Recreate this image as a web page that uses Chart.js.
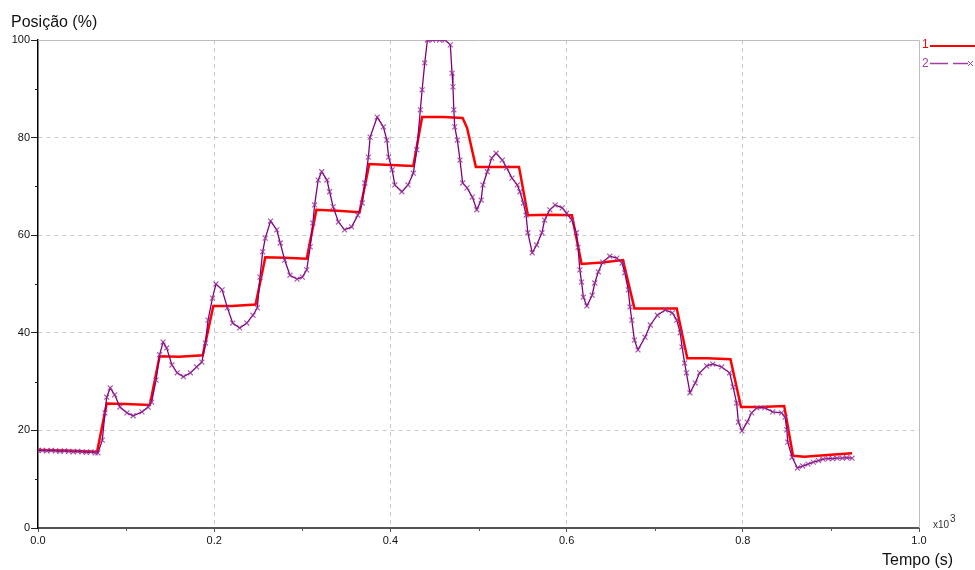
<!DOCTYPE html>
<html>
<head>
<meta charset="utf-8">
<script src="https://cdn.jsdelivr.net/npm/chart.js@4/dist/chart.umd.min.js"></script>
<style>
html, body { margin: 0; padding: 0; background: #fff; }
#wrap { position: relative; width: 975px; height: 570px; }
</style>
</head>
<body>
<div id="wrap"><canvas id="myChart" width="975" height="570"></canvas></div>
<script>
// series 1 - setpoint (red)
const tempo1 = [0.000, 0.030, 0.067, 0.078, 0.100, 0.127, 0.138, 0.160, 0.187, 0.199, 0.220, 0.247,
  0.258, 0.280, 0.305, 0.316, 0.340, 0.365, 0.376, 0.400, 0.426, 0.436, 0.460, 0.482, 0.487, 0.497,
  0.520, 0.546, 0.556, 0.580, 0.606, 0.617, 0.640, 0.664, 0.677, 0.700, 0.725, 0.737, 0.760, 0.786,
  0.798, 0.820, 0.847, 0.857, 0.870, 0.900, 0.924];
const posicao1 = [16.0, 15.9, 15.6, 25.5, 25.4, 25.2, 35.2, 35.1, 35.4, 45.5, 45.5, 45.8,
  55.5, 55.4, 55.2, 65.2, 65.0, 64.7, 74.6, 74.4, 74.2, 84.2, 84.2, 84.0, 82.0, 74.0,
  74.0, 74.0, 64.1, 64.2, 64.1, 54.1, 54.4, 54.9, 45.0, 45.0, 45.0, 34.8, 34.8, 34.6,
  24.8, 24.8, 25.0, 14.8, 14.6, 15.0, 15.3];

// series 2 - measured position (purple)
const tempo2 = [0.000, 0.005, 0.010, 0.015, 0.020, 0.025, 0.030, 0.035, 0.040, 0.045, 0.050, 0.055, 0.060, 0.065,
  0.068, 0.073, 0.076, 0.078, 0.082, 0.087, 0.093, 0.101, 0.108, 0.118, 0.125, 0.129, 0.134, 0.138,
  0.142, 0.146, 0.152, 0.158, 0.165, 0.173, 0.180, 0.186, 0.190, 0.193, 0.198, 0.202, 0.209, 0.215,
  0.221, 0.229, 0.237, 0.244, 0.249, 0.252, 0.255, 0.258, 0.264, 0.271, 0.275, 0.280, 0.286, 0.294,
  0.300, 0.305, 0.309, 0.312, 0.314, 0.318, 0.322, 0.328, 0.331, 0.335, 0.341, 0.348, 0.356, 0.363,
  0.368, 0.371, 0.375, 0.377, 0.385, 0.392, 0.396, 0.398, 0.402, 0.405, 0.413, 0.420, 0.426, 0.430,
  0.434, 0.436, 0.439, 0.442, 0.448, 0.456, 0.462, 0.468, 0.470, 0.471, 0.472, 0.473, 0.476, 0.479,
  0.482, 0.487, 0.493, 0.498, 0.503, 0.505, 0.510, 0.515, 0.520, 0.527, 0.532, 0.538, 0.544, 0.547,
  0.551, 0.554, 0.556, 0.561, 0.566, 0.572, 0.575, 0.581, 0.587, 0.595, 0.600, 0.606, 0.611, 0.613,
  0.615, 0.617, 0.619, 0.623, 0.629, 0.632, 0.636, 0.641, 0.649, 0.657, 0.663, 0.666, 0.670, 0.672,
  0.674, 0.677, 0.681, 0.689, 0.695, 0.703, 0.712, 0.720, 0.725, 0.729, 0.731, 0.734, 0.736, 0.740,
  0.746, 0.751, 0.759, 0.766, 0.776, 0.785, 0.789, 0.793, 0.795, 0.799, 0.805, 0.810, 0.816, 0.825,
  0.834, 0.844, 0.848, 0.850, 0.851, 0.856, 0.862, 0.868, 0.874, 0.880, 0.886, 0.891, 0.897, 0.902,
  0.907, 0.913, 0.918, 0.924];
const posicao2 = [15.9, 15.9, 15.8, 15.9, 15.8, 15.7, 15.8, 15.7, 15.6, 15.7, 15.6, 15.5, 15.6, 15.4,
  15.4, 18.0, 23.6, 26.8, 28.7, 27.3, 24.8, 23.6, 23.0, 23.8, 24.8, 25.8, 30.3, 35.5,
  38.1, 36.9, 33.4, 31.8, 31.0, 31.8, 33.0, 34.0, 37.9, 42.6, 47.1, 50.0, 48.8, 45.1,
  42.0, 41.0, 42.0, 43.6, 45.1, 51.4, 56.6, 59.4, 62.9, 61.1, 58.4, 54.9, 51.8, 51.0,
  51.4, 52.9, 57.6, 62.5, 66.2, 71.3, 73.0, 71.3, 68.9, 65.8, 62.7, 61.1, 61.7, 64.1,
  66.6, 70.7, 76.0, 80.1, 84.2, 82.2, 79.5, 76.0, 73.4, 70.3, 68.9, 70.3, 72.7, 77.5,
  85.7, 89.8, 95.3, 100.0, 100.0, 100.0, 100.0, 99.0, 93.2, 90.4, 85.7, 82.2, 79.5, 75.4,
  70.7, 69.7, 67.8, 65.2, 67.2, 70.3, 73.0, 75.8, 76.8, 75.4, 73.8, 71.7, 70.3, 68.9,
  66.6, 64.1, 60.5, 56.4, 58.0, 60.5, 63.1, 65.2, 66.2, 65.6, 64.5, 63.1, 60.5, 57.5,
  52.9, 50.4, 47.3, 45.5, 47.7, 50.2, 52.5, 54.5, 55.7, 55.3, 54.3, 52.3, 48.8, 45.3,
  42.6, 38.5, 36.5, 39.1, 41.6, 43.6, 44.7, 44.1, 42.6, 40.0, 37.1, 33.8, 31.8, 27.7,
  29.7, 31.8, 33.2, 33.6, 33.0, 31.8, 28.9, 25.6, 21.7, 19.9, 21.7, 23.6, 24.6, 24.6,
  23.8, 23.6, 22.7, 20.1, 17.6, 14.5, 12.3, 12.7, 13.1, 13.5, 13.8, 14.1, 14.2, 14.2,
  14.3, 14.3, 14.4, 14.3];

// axes
const xMajor = [0.0, 0.2, 0.4, 0.6, 0.8, 1.0];
const xTickLabels = ['0.0', '0.2', '0.4', '0.6', '0.8', '1.0'];
const yMajor = [0, 20, 40, 60, 80, 100];
const yTickLabels = ['0', '20', '40', '60', '80', '100'];

const majorIndex = (list, v) => list.findIndex(m => Math.abs(m - v) < 1e-6);

const gridColor = '#c8c8c8';
const tickFont = { family: 'Liberation Sans, Arial, sans-serif', size: 11 };

const extras = {
  id: 'extras',
  beforeDatasetsDraw(chart) {
    const { ctx, chartArea: a, scales } = chart;
    ctx.save();
    // top and right frame
    ctx.strokeStyle = '#bdbdbd';
    ctx.lineWidth = 1;
    ctx.beginPath();
    ctx.moveTo(a.left, a.top + 0.5);
    ctx.lineTo(a.right + 0.5, a.top + 0.5);
    ctx.lineTo(a.right + 0.5, a.bottom);
    ctx.stroke();
    // minor ticks
    ctx.strokeStyle = '#222';
    scales.y.ticks.forEach(t => {
      if (majorIndex(yMajor, t.value) < 0) {
        const py = Math.round(scales.y.getPixelForValue(t.value)) + 0.5;
        ctx.beginPath(); ctx.moveTo(a.left - 3, py); ctx.lineTo(a.left, py); ctx.stroke();
      }
    });
    ctx.strokeStyle = '#555';
    scales.x.ticks.forEach(t => {
      if (majorIndex(xMajor, t.value) < 0) {
        const px = Math.round(scales.x.getPixelForValue(t.value)) + 0.5;
        ctx.beginPath(); ctx.moveTo(px, a.bottom); ctx.lineTo(px, a.bottom + 3); ctx.stroke();
      }
    });
    ctx.restore();
  },
  afterDraw(chart) {
    const { ctx } = chart;
    ctx.save();
    // axis titles
    ctx.fillStyle = '#111';
    ctx.font = '16px Liberation Sans, Arial, sans-serif';
    ctx.textBaseline = 'alphabetic';
    ctx.textAlign = 'left';
    ctx.fillText('Posição (%)', 11, 27);
    ctx.fillText('Tempo (s)', 882, 565);
    // exponent
    ctx.fillStyle = '#333';
    ctx.font = '10px Liberation Sans, Arial, sans-serif';
    ctx.fillText('x10', 933, 528);
    ctx.fillText('3', 950, 522);
    // legend
    ctx.font = '12px Liberation Sans, Arial, sans-serif';
    ctx.fillStyle = '#ff0000';
    ctx.fillText('1', 922, 48);
    ctx.strokeStyle = '#ff0000';
    ctx.lineWidth = 2;
    ctx.beginPath(); ctx.moveTo(930, 46); ctx.lineTo(975, 46); ctx.stroke();
    ctx.fillStyle = '#a040a0';
    ctx.fillText('2', 922, 67);
    ctx.strokeStyle = '#a040a0';
    ctx.lineWidth = 1.5;
    ctx.setLineDash([18, 5]);
    ctx.beginPath(); ctx.moveTo(930, 63.5); ctx.lineTo(968, 63.5); ctx.stroke();
    ctx.setLineDash([]);
    ctx.lineWidth = 1;
    ctx.beginPath();
    ctx.moveTo(968, 61); ctx.lineTo(973, 66);
    ctx.moveTo(973, 61); ctx.lineTo(968, 66);
    ctx.stroke();
    ctx.restore();
  }
};

const ctx = document.getElementById('myChart').getContext('2d');
const chart = new Chart(ctx, {
  type: 'line',
  data: {
    datasets: [{
      label: '1',
      data: tempo1.map((t, i) => ({ x: t, y: posicao1[i] })),
      borderColor: '#ff0000',
      borderWidth: 2.5,
      pointRadius: 0,
      tension: 0,
      order: 2
    }, {
      label: '2',
      data: tempo2.map((t, i) => ({ x: t, y: posicao2[i] })),
      borderColor: '#800080',
      borderWidth: 1.3,
      pointStyle: 'crossRot',
      pointRadius: 3.5,
      pointBorderColor: 'rgba(150, 50, 150, 0.8)',
      pointBorderWidth: 1.2,
      tension: 0,
      order: 1
    }]
  },
  options: {
    responsive: false,
    animation: false,
    layout: { padding: { top: 40, right: 56, left: 0, bottom: 0 } },
    plugins: { legend: { display: false }, tooltip: { enabled: false } },
    scales: {
      x: {
        type: 'linear',
        min: 0,
        max: 1,
        afterFit: s => { s.height = 42; },
        border: { display: true, color: '#555', width: 2, dash: [4, 4] },
        grid: {
          color: c => (c.tick && majorIndex(xMajor, c.tick.value) > 0 && c.tick.value < 1) ? gridColor : 'transparent',
          tickColor: c => (c.tick && majorIndex(xMajor, c.tick.value) >= 0) ? '#555' : 'transparent',
          tickLength: 4
        },
        ticks: {
          stepSize: 0.1,
          autoSkip: false,
          maxRotation: 0,
          padding: 2,
          color: '#111',
          font: tickFont,
          callback: v => { const i = majorIndex(xMajor, v); return i >= 0 ? xTickLabels[i] : ''; }
        }
      },
      y: {
        min: 0,
        max: 100,
        afterFit: s => { s.width = 38; },
        border: { display: true, color: '#000', width: 1.5, dash: [4, 4] },
        grid: {
          color: c => (c.tick && majorIndex(yMajor, c.tick.value) > 0 && c.tick.value < 100) ? gridColor : 'transparent',
          tickColor: c => (c.tick && majorIndex(yMajor, c.tick.value) >= 0) ? '#222' : 'transparent',
          tickLength: 7
        },
        ticks: {
          stepSize: 10,
          autoSkip: false,
          padding: 1,
          color: '#111',
          font: tickFont,
          callback: v => { const i = majorIndex(yMajor, v); return i >= 0 ? yTickLabels[i] : ''; }
        }
      }
    }
  },
  plugins: [extras]
});
</script>
</body>
</html>
